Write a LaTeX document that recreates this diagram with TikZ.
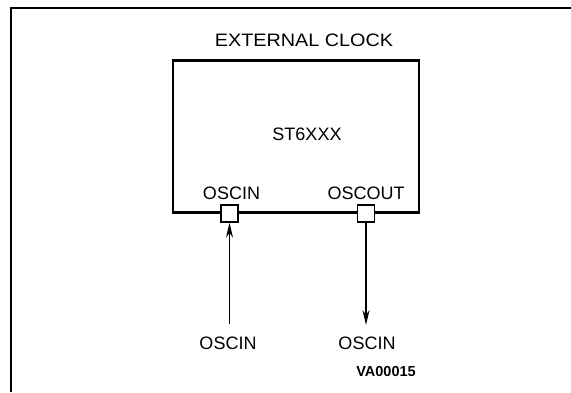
\documentclass[tikz,border=0pt]{standalone}
\usepackage{fontspec}
\setmainfont{Liberation Sans}
\usetikzlibrary{arrows.meta}
\tikzset{
  lbl/.style={inner sep=0pt, font=\fontsize{18}{18}\selectfont},
  chipbox/.style={draw, line width=2.8pt, minimum width=246pt, minimum height=152pt, inner sep=0pt},
  pin/.style={draw, line width=1.4pt, fill=white, minimum size=17pt, inner sep=0pt},
  sig/.style={line width=1.4pt, -{Stealth[length=15pt,width=7pt]}}
}
\begin{document}
\begin{tikzpicture}[x=1pt,y=-1pt]
\useasboundingbox (0,0) rectangle (571,392);
\draw[line width=2pt] (11,392) -- (11,7.5) -- (571,7.5);
\node[chipbox] (chip) at (296,136.5) {};
\node[pin] (pinL) at (229.5,213.5) {};
\node[pin] (pinR) at (366,213.5) {};
\node[lbl] (ext) at (304,40.5) {\scalebox{1.1}[1]{EXTERNAL CLOCK}};
\node[lbl] (name) at (307,134) {ST6XXX};
\node[lbl] (lin) at (231.5,193.5) {OSCIN};
\node[lbl] (lout) at (366,193.5) {OSCOUT};
\node[lbl] (bin) at (228,343.5) {OSCIN};
\node[lbl] (bout) at (367,343.5) {OSCIN};
\node[inner sep=0pt, font=\fontsize{14.5}{14.5}\selectfont\bfseries] (code) at (386,372) {VA00015};
\coordinate (srcL) at (229.5,324);
\coordinate (dstR) at (366,325);
\draw[sig] (srcL) -- (pinL.south);
\draw[sig] (pinR.south) -- (dstR);
\end{tikzpicture}
\end{document}
